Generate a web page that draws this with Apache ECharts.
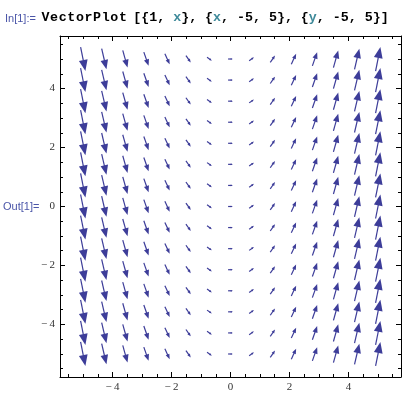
<!DOCTYPE html>
<html>
<head>
    <meta charset="UTF-8">
    <title>VectorPlot</title>
    <script src="https://cdn.jsdelivr.net/npm/echarts@6/dist/echarts.min.js"></script>
    <style>
        body { margin: 0; padding: 0; background: #fff; }
        #chart { width: 411px; height: 398px; }
    </style>
</head>
<body>
<div id="chart"></div>
<script>
// 网格采样点 (15 x 15, -5 .. 5)
const xPoints = [-5, -4.286, -3.571, -2.857, -2.143, -1.429, -0.714, 0, 0.714, 1.429, 2.143, 2.857, 3.571, 4.286, 5];
const yPoints = [-5, -4.286, -3.571, -2.857, -2.143, -1.429, -0.714, 0, 0.714, 1.429, 2.143, 2.857, 3.571, 4.286, 5];
// 向量场 {1, x}
const field = (x, y) => [1, x];

// 刻度
const majorTicks = [-4, -2, 0, 2, 4];
const minorTicks = [-5.5, -5, -4.5, -4, -3.5, -3, -2.5, -2, -1.5, -1, -0.5, 0, 0.5, 1, 1.5, 2, 2.5, 3, 3.5, 4, 4.5, 5, 5.5];

// 输入单元格文字，分段上色 [文字, 颜色, 起始列]
const funcName = 'VectorPlot';
const codeParts = [
    ['[{1, ', '#000', 11.5], ['x', '#3f8a9a', 16.5], ['}, {', '#000', 17.5],
    ['x', '#3f8a9a', 21.5], [', -5, 5}, {', '#000', 22.5], ['y', '#3f8a9a', 33.5], [', -5, 5}]', '#000', 34.5]
];

const arrowColor = '#3d3d99';
const pxPerMag = 4.8;

const data = [];
xPoints.forEach(x => {
    yPoints.forEach(y => {
        const v = field(x, y);
        data.push([x, y, v[0], v[1]]);
    });
});

const chart = echarts.init(document.getElementById('chart'));

function fmt(v) {
    return v < 0 ? '\u2212\u2009' + (-v) : String(v);
}

const labelStyle = {
    fontFamily: 'Liberation Serif',
    fontSize: 11,
    color: '#333'
};

function axisPair(pos, withLabels) {
    const major = {
        type: 'value', min: -5.78, max: 5.78, position: pos,
        axisLine: { show: true, onZero: false, lineStyle: { color: '#000', width: 1 } },
        axisTick: { show: true, inside: true, length: 5, customValues: majorTicks, lineStyle: { color: '#000' } },
        axisLabel: withLabels
            ? Object.assign({ show: true, customValues: majorTicks, formatter: fmt, margin: 5 }, labelStyle)
            : { show: false },
        splitLine: { show: false }
    };
    const minor = {
        type: 'value', min: -5.78, max: 5.78, position: pos,
        axisLine: { show: false, onZero: false },
        axisTick: { show: true, inside: true, length: 3, customValues: minorTicks, lineStyle: { color: '#000' } },
        axisLabel: { show: false },
        splitLine: { show: false }
    };
    return [major, minor];
}

// 代码文字（等宽字体，按字符列排版）
const codeFont = 13.3;
const charW = codeFont * 0.6;
const codeX = 41.5;
const codeTexts = codeParts.map(p => ({
    type: 'text', left: codeX + p[2] * charW, top: 11,
    style: { text: p[0], fill: p[1], font: 'bold ' + codeFont + 'px "Liberation Mono"' }
}));
// 函数名字距稍宽
funcName.split('').forEach((ch, i) => {
    codeTexts.push({
        type: 'text', left: codeX + i * 8.6, top: 11,
        style: { text: ch, fill: '#000', font: 'bold ' + codeFont + 'px "Liberation Mono"' }
    });
});

chart.setOption({
    animation: false,
    backgroundColor: '#fff',
    title: [
        {
            text: 'In[1]:=', left: 5, top: 13, padding: 0,
            textStyle: { fontFamily: 'Liberation Sans', fontSize: 11, fontWeight: 'normal', color: '#4a55a8' }
        },
        {
            text: 'Out[1]=', left: 3, top: 201, padding: 0,
            textStyle: { fontFamily: 'Liberation Sans', fontSize: 11, fontWeight: 'normal', color: '#4a55a8' }
        }
    ],
    graphic: codeTexts,
    grid: { left: 60, top: 36, width: 341, height: 341, containLabel: false },
    xAxis: axisPair('bottom', true).concat(axisPair('top', false)),
    yAxis: axisPair('left', true).concat(axisPair('right', false)),
    series: [{
        type: 'custom',
        xAxisIndex: 0,
        yAxisIndex: 0,
        data: data,
        renderItem: function (params, api) {
            const c = api.coord([api.value(0), api.value(1)]);
            const vx = api.value(2), vy = api.value(3);
            const mag = Math.sqrt(vx * vx + vy * vy);
            const L = mag * pxPerMag;
            const ux = vx / mag, uy = -vy / mag;
            const px = -uy, py = ux;
            const tail = [c[0] - ux * L / 2, c[1] - uy * L / 2];
            const tip = [c[0] + ux * L / 2, c[1] + uy * L / 2];
            const hl = L * 0.45, hw = L * 0.18;
            const base = [tip[0] - ux * hl, tip[1] - uy * hl];
            return {
                type: 'group',
                children: [
                    {
                        type: 'line',
                        shape: { x1: tail[0], y1: tail[1], x2: base[0] + ux * 1, y2: base[1] + uy * 1 },
                        style: { stroke: arrowColor, lineWidth: 1.2 }
                    },
                    {
                        type: 'polygon',
                        shape: { points: [tip, [base[0] + px * hw, base[1] + py * hw], [base[0] - px * hw, base[1] - py * hw]] },
                        style: { fill: arrowColor }
                    }
                ]
            };
        }
    }]
});
</script>
</body>
</html>
